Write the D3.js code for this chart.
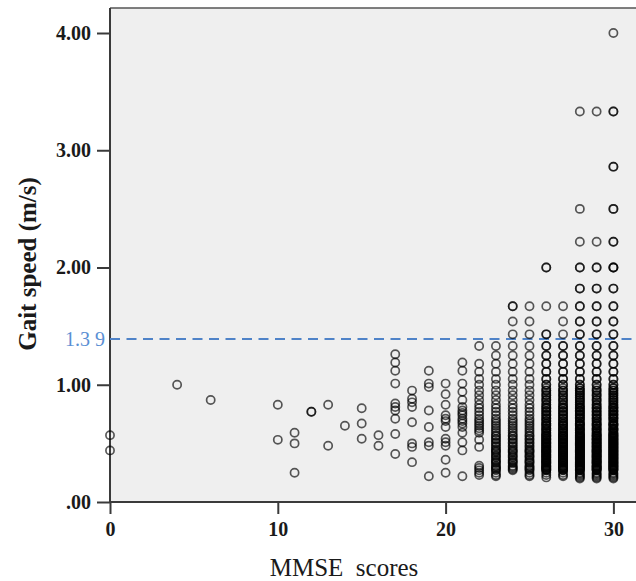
<!DOCTYPE html>
<html><head><meta charset="utf-8">
<script src="https://cdn.jsdelivr.net/npm/d3@7"></script>
<style>html,body{margin:0;padding:0;background:#fff;} svg{display:block;}</style>
</head><body>
<svg id="chart" width="636" height="581"></svg>
<script>
// ---- data ----
const xTicks = [0, 10, 20, 30];
const xTickLabels = ["0", "10", "20", "30"];
const yTicks = [0, 1, 2, 3, 4];
const yTickLabels = [".00", "1.00", "2.00", "3.00", "4.00"];
const cutoffValue = 1.39;
const cutoffLabel = "1.3 9";
const xTitle = "MMSE  scores";
const yTitle = "Gait speed (m/s)";

// values common to the densely filled columns
const denseCore = [1.33, 1.25, 1.18, 1.11, 1.05, 1.00, 0.95, 0.91, 0.87, 0.83, 0.80, 0.77, 0.74, 0.71, 0.69, 0.67, 0.65, 0.63, 0.61, 0.59, 0.57, 0.56, 0.54, 0.53, 0.51, 0.50, 0.48, 0.47, 0.45, 0.44, 0.43, 0.42, 0.40, 0.39, 0.38, 0.36, 0.35, 0.34, 0.33, 0.31, 0.30, 0.29, 0.28, 0.27];
// additional values seen in the darkest columns
const denseExtra = [0.97, 0.93, 0.89, 0.85, 0.81, 0.78, 0.75, 0.72, 0.66, 0.62, 0.58, 0.55, 0.52, 0.49, 0.46, 0.41, 0.37, 0.32];

const mmseScores = [0, 4, 6, 10, 11, 12, 13, 14, 15, 16, 17, 18, 19, 20, 21, 22, 23, 24, 25, 26, 27, 28, 29, 30];
const speed0  = [0.57, 0.44];
const speed4  = [1.00];
const speed6  = [0.87];
const speed10 = [0.83, 0.53];
const speed11 = [0.59, 0.50, 0.25];
const speed12 = [0.77, 0.77];
const speed13 = [0.83, 0.48];
const speed14 = [0.65];
const speed15 = [0.80, 0.67, 0.54];
const speed16 = [0.57, 0.48];
const speed17 = [1.26, 1.19, 1.12, 1.01, 0.84, 0.81, 0.78, 0.71, 0.58, 0.41];
const speed18 = [0.95, 0.88, 0.85, 0.81, 0.68, 0.50, 0.47, 0.34];
const speed19 = [1.12, 1.01, 0.98, 0.78, 0.64, 0.51, 0.48, 0.22];
const speed20 = [1.01, 0.92, 0.83, 0.74, 0.71, 0.69, 0.64, 0.54, 0.51, 0.48, 0.36, 0.25];
const speed21 = [1.19, 1.12, 1.01, 0.94, 0.87, 0.81, 0.78, 0.76, 0.74, 0.71, 0.69, 0.67, 0.64, 0.59, 0.51, 0.44, 0.22];
const speed22 = [1.33, 1.18, 1.11, 1.05, 1.00, 0.95, 0.91, 0.87, 0.83, 0.80, 0.77, 0.74, 0.71, 0.69, 0.67, 0.65, 0.63, 0.61, 0.59, 0.53, 0.47, 0.31, 0.29, 0.27, 0.25, 0.23];
const speed23 = [...denseCore, 0.25, 0.23, 0.22];
const speed24 = [1.67, 1.67, 1.54, 1.43, ...denseCore];
const speed25 = [1.67, 1.54, 1.43, ...denseCore, 0.25, 0.23, 0.22];
const speed26 = [2.00, 2.00, 1.67, 1.43, 1.43, ...denseCore, ...denseCore, ...denseExtra, 0.25, 0.23, 0.21];
const speed27 = [1.67, 1.54, 1.43, ...denseCore, ...denseCore, ...denseExtra, 0.25, 0.23, 0.22];
const speed28 = [3.33, 2.50, 2.22, 2.00, 2.00, 1.82, 1.82, 1.67, 1.67, 1.54, 1.54, 1.43, 1.43, ...denseCore, ...denseCore, ...denseExtra, ...denseExtra, 0.25, 0.24, 0.23, 0.22, 0.21, 0.20];
const speed29 = [3.33, 2.22, 2.00, 2.00, 1.82, 1.82, 1.67, 1.67, 1.54, 1.54, 1.43, 1.43, ...denseCore, ...denseCore, ...denseExtra, 0.25, 0.24, 0.23, 0.22, 0.21, 0.20];
const speed30 = [4.00, 3.33, 3.33, 2.86, 2.86, 2.50, 2.50, 2.22, 2.22, 2.00, 2.00, 2.00, 1.82, 1.82, 1.67, 1.67, 1.54, 1.54, 1.43, 1.43, ...denseCore, ...denseCore, ...denseExtra, ...denseExtra, 0.25, 0.24, 0.23, 0.22, 0.21, 0.20];

const speedColumns = [speed0, speed4, speed6, speed10, speed11, speed12, speed13, speed14, speed15, speed16, speed17, speed18, speed19, speed20, speed21, speed22, speed23, speed24, speed25, speed26, speed27, speed28, speed29, speed30];

const points = mmseScores.flatMap((m, i) => speedColumns[i].map(v => ({mmse: m, speed: v})));

// ---- drawing ----
const svg = d3.select("#chart");
const W = 636, H = 581;
svg.append("rect").attr("width", W).attr("height", H).attr("fill", "#ffffff");

const x = d3.scaleLinear().domain([0, 30]).range([110, 613.4]);
const y = d3.scaleLinear().domain([0, 4]).range([502, 33]);
const plotTop = 8, plotBottom = y(0), plotLeft = x(0), plotRight = W + 5;

svg.append("rect")
  .attr("x", plotLeft).attr("y", plotTop)
  .attr("width", plotRight - plotLeft).attr("height", plotBottom - plotTop)
  .attr("fill", "#efefef");

// top frame line
svg.append("line").attr("x1", plotLeft).attr("x2", plotRight).attr("y1", plotTop).attr("y2", plotTop)
  .attr("stroke", "#555").attr("stroke-width", 1.5);

// axes
const serif = "'Liberation Serif', 'Times New Roman', serif";
const yAxis = d3.axisLeft(y).tickValues(yTicks).tickFormat((d, i) => yTickLabels[i]).tickSize(13).tickPadding(6);
const xAxis = d3.axisBottom(x).tickValues(xTicks).tickFormat((d, i) => xTickLabels[i]).tickSize(12).tickPadding(8);

const gy = svg.append("g").attr("transform", `translate(${plotLeft},0)`).call(yAxis);
const gx = svg.append("g").attr("transform", `translate(0,${plotBottom})`).call(xAxis);
[gx, gy].forEach(g => {
  g.select(".domain").remove();
  g.selectAll(".tick line").attr("stroke", "#3a3a3a").attr("stroke-width", 2);
  g.selectAll(".tick text").attr("fill", "#1a1a1a").style("font-family", serif)
    .style("font-size", "20px").style("font-weight", "bold");
});

// axis lines
svg.append("line").attr("x1", plotLeft).attr("x2", plotLeft).attr("y1", plotTop).attr("y2", plotBottom)
  .attr("stroke", "#3a3a3a").attr("stroke-width", 2);
svg.append("line").attr("x1", plotLeft).attr("x2", plotRight).attr("y1", plotBottom).attr("y2", plotBottom)
  .attr("stroke", "#3a3a3a").attr("stroke-width", 2);

// cutoff line
svg.append("line")
  .attr("x1", plotLeft).attr("x2", plotRight)
  .attr("y1", y(cutoffValue)).attr("y2", y(cutoffValue))
  .attr("stroke", "#4f83c8").attr("stroke-width", 2)
  .attr("stroke-dasharray", "10,6.5");
svg.append("text")
  .attr("x", plotLeft - 5).attr("y", y(cutoffValue)).attr("dy", "0.33em")
  .attr("text-anchor", "end")
  .attr("fill", "#5a8fd4")
  .style("font-family", serif).style("font-size", "20px")
  .style("white-space", "pre")
  .text(cutoffLabel);

// points
svg.append("g").selectAll("circle").data(points).join("circle")
  .attr("cx", d => x(d.mmse)).attr("cy", d => y(d.speed))
  .attr("r", 4.1)
  .attr("fill", "none")
  .attr("stroke", "#000")
  .attr("stroke-opacity", 0.65)
  .attr("stroke-width", 1.7);

// titles
svg.append("text")
  .attr("x", 344).attr("y", 576)
  .attr("text-anchor", "middle")
  .attr("fill", "#1a1a1a")
  .style("font-family", serif).style("font-size", "25px")
  .style("white-space", "pre")
  .text(xTitle);

svg.append("text")
  .attr("transform", "translate(36,264) rotate(-90)")
  .attr("text-anchor", "middle")
  .attr("fill", "#1a1a1a")
  .style("font-family", serif).style("font-size", "25px").style("font-weight", "bold")
  .text(yTitle);
</script></body></html>
